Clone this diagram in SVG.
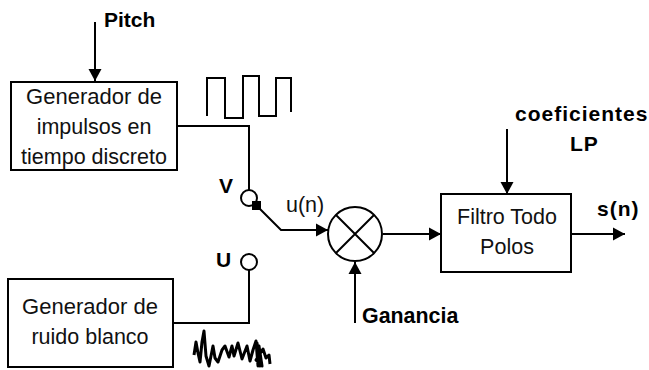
<svg xmlns="http://www.w3.org/2000/svg" width="649" height="370" viewBox="0 0 649 370">
<style>
.b{fill:#fff;stroke:#000;stroke-width:2}
.l{fill:none;stroke:#000;stroke-width:2}
.n{fill:none;stroke:#000;stroke-width:3;stroke-linejoin:round}
text{font-family:"Liberation Sans",Arial,sans-serif;fill:#111;font-size:21.5px}
.t{text-anchor:middle}
.g{font-size:22px}
.h{font-weight:bold;fill:#000;font-size:21px}
</style>
<defs><marker id="a" markerUnits="userSpaceOnUse" markerWidth="14" markerHeight="14" refX="13" refY="7" orient="auto"><path d="M1 0.5L13 7L1 13.5Z" fill="#000"/></marker></defs>
<g id="connectors">
<path class="l" d="M95 22V81" marker-end="url(#a)"/>
<path class="l" d="M178 126H249V190"/>
<path class="l" d="M256 205L281 230H328" marker-end="url(#a)"/>
<path class="l" d="M173 323H249V269"/>
<path class="l" d="M383 234H441" marker-end="url(#a)"/>
<path class="l" d="M507 129V194" marker-end="url(#a)"/>
<path class="l" d="M572 234H625" marker-end="url(#a)"/>
<path class="l" d="M355 323V262" marker-end="url(#a)"/>
<path class="l" d="M207 116V78H225V118H243V76H259V116H276V78H291V112"/>
<path class="n" d="M194 355L196 342L198 353L200 362L202 342L204 331L206 356L209 366L213 346L215 358L218 362L222 350L225 346L229 357L232 346L234 356L238 343L242 359L247 346L250 361L253 350L256 341L258 366L257 343L260 366L259 346L262 366L256 360L263 349L266 358L269 355L270 364"/>
</g>
<g id="gen-impulsos">
<rect class="b" x="11" y="82" width="166" height="88"/>
<text class="t g" x="94" y="104">Generador de</text>
<text class="t" x="94" y="134">impulsos en</text>
<text class="t" x="94" y="164">tiempo discreto</text>
</g>
<g id="gen-ruido">
<rect class="b" x="8" y="279" width="165" height="88"/>
<text class="t g" x="90" y="314">Generador de</text>
<text class="t" x="90" y="344">ruido blanco</text>
</g>
<g id="filtro">
<rect class="b" x="441" y="194" width="130" height="78"/>
<text class="t" x="507" y="224">Filtro Todo</text>
<text class="t" x="507" y="254">Polos</text>
</g>
<g id="mult">
<circle class="b" cx="355" cy="234" r="27"/>
<path class="l" d="M336 215L374 253M336 253L374 215"/>
</g>
<g id="switch-v">
<circle class="b" cx="249" cy="198" r="8"/>
<rect x="252" y="201" width="9" height="9" fill="#000"/>
<text class="h" x="219" y="193">V</text>
</g>
<g id="switch-u">
<circle class="b" cx="249" cy="262" r="8"/>
<text class="h" x="216" y="267">U</text>
</g>
<g id="labels">
<text class="h" x="104" y="27">Pitch</text>
<text x="286" y="212">u(n)</text>
<text class="h" x="515" y="121" letter-spacing="1">coeficientes</text>
<text class="h" x="570" y="151" letter-spacing="1">LP</text>
<text class="h" x="597" y="216" letter-spacing="1">s(n)</text>
<text class="h" x="362" y="323" style="font-size:21.4px">Ganancia</text>
</g>
</svg>
